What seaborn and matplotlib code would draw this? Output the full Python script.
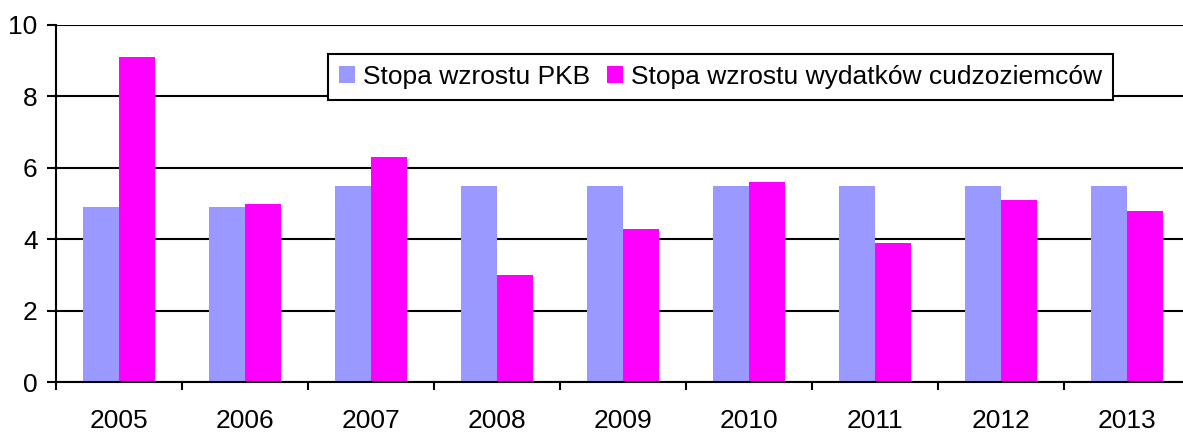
import pandas as pd
import matplotlib
matplotlib.use("Agg")
import matplotlib.pyplot as plt
import seaborn as sns
from matplotlib.ticker import FixedLocator

# Data
years = ["2005", "2006", "2007", "2008", "2009", "2010", "2011", "2012", "2013"]
pkb = [4.9, 4.9, 5.5, 5.5, 5.5, 5.5, 5.5, 5.5, 5.5]
wydatki = [9.1, 5.0, 6.3, 3.0, 4.3, 5.6, 3.9, 5.1, 4.8]
series_names = ["Stopa wzrostu PKB", "Stopa wzrostu wydatków cudzoziemców"]
colors = ["#9999FF", "#FF00FF"]

df = pd.DataFrame({
    "rok": years * 2,
    "wartosc": pkb + wydatki,
    "seria": [series_names[0]] * len(years) + [series_names[1]] * len(years),
})

sns.set_style("white")
plt.rcParams["font.family"] = ["Liberation Sans", "DejaVu Sans"]
plt.rcParams["text.color"] = "black"
plt.rcParams["xtick.color"] = "black"
plt.rcParams["ytick.color"] = "black"

W, H = 1183, 432
fig = plt.figure(figsize=(W / 100, H / 100), dpi=100)
ax = fig.add_axes([56.3 / W, (H - 382.3) / H, 1134 / W, 357.3 / H])

sns.barplot(data=df, x="rok", y="wartosc", hue="seria", palette=colors,
            width=0.571, saturation=1, gap=0, linewidth=0, ax=ax, zorder=3)

ax.set_ylim(0, 10)
ax.set_xlim(-0.5, len(years) - 0.5)
ax.set_yticks([0, 2, 4, 6, 8, 10])
ax.yaxis.grid(True, color="black", linewidth=1.5, zorder=0)
ax.set_axisbelow(True)
ax.set_xlabel("")
ax.set_ylabel("")

for side in ["top", "right"]:
    ax.spines[side].set_visible(False)
for side in ["left", "bottom"]:
    ax.spines[side].set_color("black")
    ax.spines[side].set_linewidth(1.5)
    ax.spines[side].set_zorder(5)

ax.tick_params(axis="y", direction="out", length=6.5, width=1.5, color="black",
               labelsize=19, labelcolor="black", pad=7, left=True)
ax.tick_params(axis="x", which="major", length=0, labelsize=19,
               labelcolor="black", pad=19.5)
ax.xaxis.set_minor_locator(FixedLocator([i - 0.5 for i in range(len(years) + 1)]))
ax.tick_params(axis="x", which="minor", direction="out", length=6, width=1.5,
               color="black", bottom=True)

ax.get_legend().remove()
leg = fig.legend(*ax.get_legend_handles_labels(), loc="upper left",
                 bbox_to_anchor=(327.7 / W, 1 - 54 / H), ncol=2,
                 fontsize=19, frameon=True, fancybox=False, framealpha=1,
                 edgecolor="black", handlelength=0.6, handleheight=0.6,
                 handletextpad=0.33, columnspacing=0.62, borderpad=0.42,
                 borderaxespad=0)
leg.get_frame().set_linewidth(1.5)
leg.set_zorder(10)
for t in leg.get_texts():
    t.set_color("black")

fig.savefig("out.png", dpi=100)
